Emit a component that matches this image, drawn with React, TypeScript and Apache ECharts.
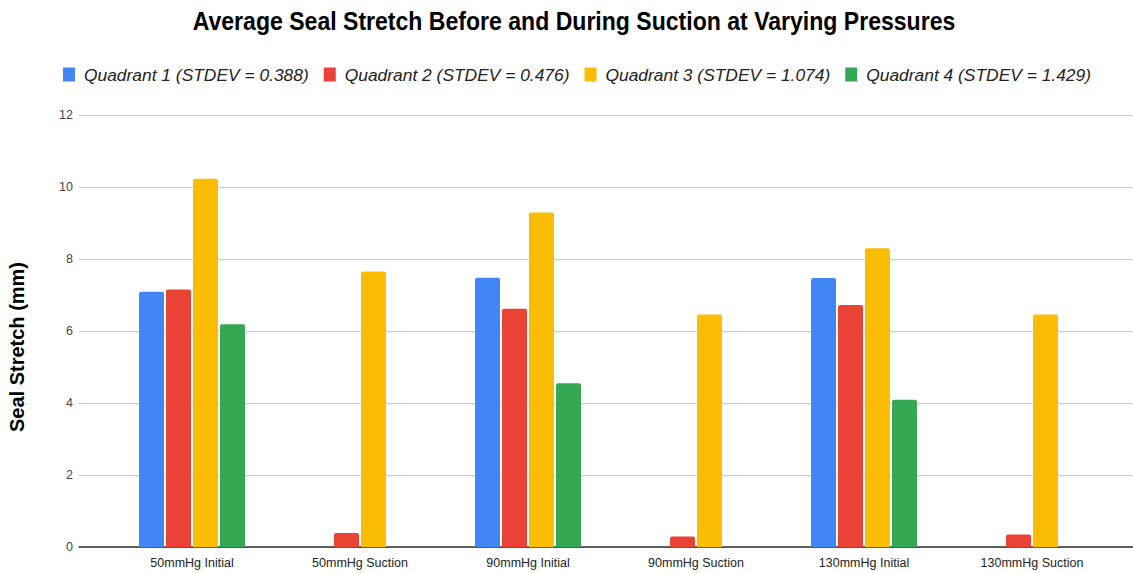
import React, { useEffect, useRef } from "react";
import * as echarts from "echarts";

const categories = [
  "50mmHg Initial",
  "50mmHg Suction",
  "90mmHg Initial",
  "90mmHg Suction",
  "130mmHg Initial",
  "130mmHg Suction",
];

const seriesNames = [
  "Quadrant 1 (STDEV = 0.388)",
  "Quadrant 2 (STDEV = 0.476)",
  "Quadrant 3 (STDEV = 1.074)",
  "Quadrant 4 (STDEV = 1.429)",
];

const quadrant1 = [7.09, 0, 7.48, 0, 7.47, 0];
const quadrant2 = [7.15, 0.39, 6.62, 0.29, 6.72, 0.35];
const quadrant3 = [10.23, 7.65, 9.29, 6.46, 8.3, 6.46];
const quadrant4 = [6.19, 0, 4.55, 0, 4.09, 0];

const colors = ["#4285F4", "#EA4335", "#FBBC04", "#34A853"];

const yTicks = { min: 0, max: 12, interval: 2 };

const TITLE = "Average Seal Stretch Before and During Suction at Varying Pressures";
const Y_TITLE = "Seal Stretch (mm)";

export default function App() {
  const ref = useRef<HTMLDivElement>(null);

  useEffect(() => {
    if (!ref.current) return;
    const chart = echarts.init(ref.current, null, { renderer: "svg" });
    const values = [quadrant1, quadrant2, quadrant3, quadrant4];

    chart.setOption({
      animation: false,
      backgroundColor: "#ffffff",
      textStyle: { fontFamily: "Liberation Sans, Arial, sans-serif" },
      graphic: [
        {
          type: "text",
          x: 574,
          y: 21,
          scaleX: 0.887,
          style: {
            text: TITLE,
            font: "bold 26px 'Liberation Sans', Arial, sans-serif",
            fill: "#000000",
            textAlign: "center",
            textVerticalAlign: "middle",
          },
        },
        {
          type: "text",
          x: 17,
          y: 347,
          rotation: Math.PI / 2,
          style: {
            text: Y_TITLE,
            font: "bold 20px 'Liberation Sans', Arial, sans-serif",
            fill: "#000000",
            textAlign: "center",
            textVerticalAlign: "middle",
          },
        },
      ],
      legend: {
        left: 63,
        top: 66,
        padding: 0,
        itemWidth: 12,
        itemHeight: 14,
        itemGap: 15,
        icon: "rect",
        data: seriesNames,
        textStyle: {
          fontFamily: "Liberation Sans, Arial, sans-serif",
          fontStyle: "italic",
          fontSize: 17.4,
          color: "#222222",
          padding: [0, 0, 0, 4],
        },
      },
      grid: [
        { left: 79, right: 0, top: 115, bottom: 26, containLabel: false },
        { left: 108, width: 1008, top: 115, bottom: 26, containLabel: false },
      ],
      xAxis: [
        {
          type: "category",
          gridIndex: 0,
          data: [""],
          axisLine: { show: true, lineStyle: { color: "#333333", width: 1.5 } },
          axisTick: { show: false },
          axisLabel: { show: false },
          splitLine: { show: false },
        },
        {
          type: "category",
          gridIndex: 1,
          data: categories,
          axisLine: { show: false },
          axisTick: { show: false },
          axisLabel: {
            color: "#222222",
            fontSize: 12.5,
            margin: 9,
            fontFamily: "Liberation Sans, Arial, sans-serif",
          },
        },
      ],
      yAxis: [
        {
          type: "value",
          gridIndex: 0,
          min: yTicks.min,
          max: yTicks.max,
          interval: yTicks.interval,
          axisLine: { show: false },
          axisTick: { show: false },
          axisLabel: {
            color: "#444444",
            fontSize: 12.5,
            margin: 6,
            fontFamily: "Liberation Sans, Arial, sans-serif",
          },
          splitLine: { lineStyle: { color: "#cccccc", width: 1 } },
        },
        {
          type: "value",
          gridIndex: 1,
          min: yTicks.min,
          max: yTicks.max,
          interval: yTicks.interval,
          show: false,
          splitLine: { show: false },
        },
      ],
      series: seriesNames.map((name, i) => ({
        name,
        type: "bar",
        xAxisIndex: 1,
        yAxisIndex: 1,
        data: values[i],
        barWidth: 25,
        barGap: "8%",
        itemStyle: { color: colors[i], borderRadius: [2, 2, 0, 0] },
      })),
    });

    return () => chart.dispose();
  }, []);

  return (
    <div
      ref={ref}
      style={{ width: 1133, height: 573, position: "absolute", left: 0, top: 0 }}
    />
  );
}
